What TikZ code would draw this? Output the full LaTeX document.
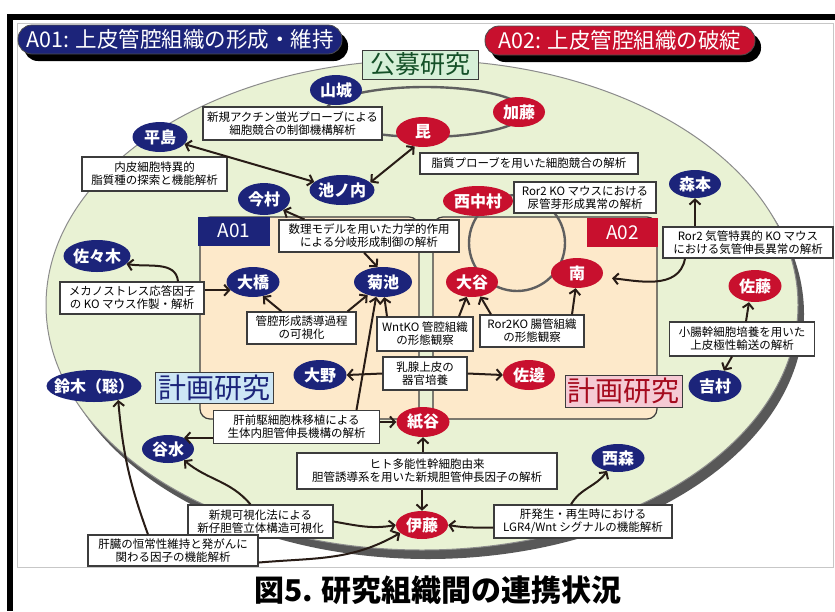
\documentclass[tikz,border=0pt]{standalone}
\usepackage{fontspec}
\setmainfont{Noto Sans CJK JP}
\usetikzlibrary{shapes.geometric,arrows.meta,calc}
\definecolor{navy}{RGB}{28,36,122}
\definecolor{redc}{RGB}{200,16,46}
\definecolor{greenfill}{RGB}{233,242,212}
\definecolor{peach}{RGB}{253,233,202}
\definecolor{loopgray}{RGB}{95,95,95}
\definecolor{arrowc}{RGB}{40,28,22}
\definecolor{boxline}{RGB}{60,60,60}
\definecolor{shadowgray}{RGB}{88,88,88}
\definecolor{koubotext}{RGB}{20,80,40}
\definecolor{koubofill}{RGB}{214,240,216}
\definecolor{kblue}{RGB}{205,230,245}
\definecolor{kpink}{RGB}{245,202,212}
\definecolor{kred}{RGB}{165,10,30}
\tikzset{
  pn/.style={ellipse, fill=navy, text=white, font=\fontsize{16}{16}\selectfont\bfseries,
    inner sep=0pt, minimum width=52pt, minimum height=30pt},
  rn/.style={pn, fill=redc},
  tb/.style={draw=boxline, line width=1.1pt, fill=white, align=center, inner sep=1pt,
    font=\fontsize{11.5}{13}\selectfont, text=black},
  arr/.style={draw=arrowc, line width=2pt, -{Straight Barb[length=5pt,width=11pt]}},
  darr/.style={draw=arrowc, line width=2pt, {Straight Barb[length=5pt,width=11pt]}-{Straight Barb[length=5pt,width=11pt]}},
  loopline/.style={draw=loopgray, line width=2.4pt},
  rectline/.style={draw=boxline, line width=1.2pt},
}
\begin{document}
\begin{tikzpicture}[x=1pt,y=-1pt]
\useasboundingbox (0,0) rectangle (835,611);
\fill[white] (0,0) rectangle (835,611);
% frame
\fill[black] (7,14) rectangle (835,20);
\fill[black] (7,14) rectangle (13,611);
\draw[black!22, line width=1pt] (17,23) rectangle (833,567);
% big ellipse
\fill[shadowgray] (428,314) ellipse [x radius=376pt, y radius=245pt];
\fill[greenfill] (422,305) ellipse [x radius=376pt, y radius=245pt];
\draw[black!45, line width=1pt] (422,305) ellipse [x radius=376pt, y radius=245pt];
% planned research areas
\filldraw[fill=peach, rectline, rounded corners=10pt] (200,217) rectangle (419,419);
\filldraw[fill=peach, rectline, rounded corners=10pt] (433,217) rectangle (657,419);
% loops
\draw[loopline] (425,112) ellipse [x radius=100pt, y radius=25pt];
\draw[loopline] (517,243) circle [radius=48pt];
% header pills
\fill[black, rounded corners=14pt] (24,32) rectangle (348,61);
\node[fill=navy, draw=black!70, line width=0.8pt, rounded corners=14pt, minimum width=324pt, minimum height=29pt,
  inner sep=0pt, text=white, font=\fontsize{21.5}{22}\selectfont] (pillA) at (180,39.5) {A01: 上皮管腔組織の形成・維持};
\fill[black, rounded corners=14pt] (491,33) rectangle (761,62);
\node[fill=redc, draw=black!70, line width=0.8pt, rounded corners=14pt, minimum width=270pt, minimum height=29pt,
  inner sep=0pt, text=white, font=\fontsize{21.5}{22}\selectfont] (pillB) at (620,40.5) {A02: 上皮管腔組織の破綻};
% area labels
\node[fill=navy, text=white, minimum width=72pt, minimum height=29pt, inner sep=0pt,
  font=\fontsize{19}{19}\selectfont] (a01) at (234,231) {A01};
\node[fill=redc, text=white, minimum width=71pt, minimum height=29pt, inner sep=0pt,
  font=\fontsize{19}{19}\selectfont] (a02) at (622.5,232.5) {A02};
\node[draw=boxline, line width=1pt, fill=koubofill, text=koubotext, minimum width=116pt, minimum height=29pt,
  inner sep=0pt, font=\fontsize{25}{25}\selectfont] (koubo) at (420,64.5) {公募研究};
\node[draw=boxline, line width=1pt, fill=kblue, text=navy, minimum width=118pt, minimum height=31pt,
  inner sep=0pt, font=\fontsize{28}{28}\selectfont] (keikakuA) at (214,387.5) {計画研究};
\node[draw=boxline, line width=1pt, fill=kpink, text=kred, minimum width=117pt, minimum height=32pt,
  inner sep=0pt, font=\fontsize{28}{28}\selectfont] (keikakuB) at (623.5,391) {計画研究};
% text boxes
\node[tb, minimum width=179pt, minimum height=33pt] (b1) at (292.5,123.5) {新規アクチン蛍光プローブによる\\細胞競合の制御機構解析};
\node[tb, minimum width=145pt, minimum height=34pt] (b2) at (154.5,174) {内皮細胞特異的\\脂質種の探索と機能解析};
\node[tb, minimum width=218pt, minimum height=21pt] (b3) at (529,163.5) {脂質プローブを用いた細胞競合の解析};
\node[tb, minimum width=142pt, minimum height=31pt] (b4) at (585,197.5) {Ror2 KO マウスにおける\\尿管芽形成異常の解析};
\node[tb, minimum width=180pt, minimum height=32pt] (b5) at (369,236) {数理モデルを用いた力学的作用\\による分岐形成制御の解析};
\node[tb, minimum width=170pt, minimum height=31pt] (b6) at (748,242.5) {Ror2 気管特異的 KO マウス\\における気管伸長異常の解析};
\node[tb, minimum width=144pt, minimum height=32pt] (b7) at (132,298) {メカノストレス応答因子\\の KO マウス作製・解析};
\node[tb, minimum width=109pt, minimum height=32pt] (b8) at (301.5,328) {管腔形成誘導過程\\の可視化};
\node[tb, minimum width=96pt, minimum height=34pt] (b9) at (425,334) {WntKO 管腔組織\\の形態観察};
\node[tb, minimum width=104pt, minimum height=32pt] (b10) at (532,331) {Ror2KO 腸管組織\\の形態観察};
\node[tb, minimum width=84pt, minimum height=33pt] (b11) at (425,373.5) {乳腺上皮の\\器官培養};
\node[tb, minimum width=145pt, minimum height=34pt] (b12) at (742,339) {小腸幹細胞培養を用いた\\上皮極性輸送の解析};
\node[tb, minimum width=166pt, minimum height=33pt] (b13) at (296.5,427) {肝前駆細胞株移植による\\生体内胆管伸長機構の解析};
\node[tb, minimum width=260pt, minimum height=36pt] (b14) at (427,471) {ヒト多能性幹細胞由来\\胆管誘導系を用いた新規胆管伸長因子の解析};
\node[tb, minimum width=145pt, minimum height=33pt] (b15) at (260.5,521.5) {新規可視化法による\\新仔胆管立体構造可視化};
\node[tb, minimum width=170pt, minimum height=31pt] (b16) at (173,550.5) {肝臓の恒常性維持と発がんに\\関わる因子の機能解析};
\node[tb, minimum width=178pt, minimum height=33pt] (b17) at (583,521.5) {肝発生・再生時における\\LGR4/Wnt シグナルの機能解析};
% researcher nodes
\node[pn] (yamashiro) at (336,90) {山城};
\node[pn, minimum width=55pt] (hirashima) at (160,137) {平島};
\node[rn, minimum width=54pt] (kon) at (423,132) {昆};
\node[rn] (kato) at (519,112) {加藤};
\node[pn, minimum width=65pt, inner xsep=-3pt] (ikenouchi) at (342,190) {池ノ内};
\node[pn, minimum height=32pt] (imamura) at (264,199) {今村};
\node[rn, minimum width=70pt, inner xsep=-3pt] (nishinakamura) at (478,201) {西中村};
\node[pn, minimum height=28pt] (morimoto) at (695,184) {森本};
\node[pn, minimum width=67pt, minimum height=32pt, inner xsep=-3pt] (sasaki) at (97,256) {佐々木};
\node[pn, minimum width=53pt] (ohashi) at (253,282) {大橋};
\node[pn, minimum width=58pt] (kikuchi) at (383,282) {菊池};
\node[rn] (ootani) at (472,282) {大谷};
\node[rn] (minami) at (577,273) {南};
\node[rn, minimum width=53pt, minimum height=32pt] (sato) at (755,286) {佐藤};
\node[pn, minimum width=53pt] (oono) at (320,375) {大野};
\node[rn] (sabe) at (529,375) {佐邊};
\node[pn, minimum width=53pt, minimum height=32pt] (yoshimura) at (715,386) {吉村};
\node[pn, minimum width=95pt, minimum height=32pt, inner xsep=-7pt] (suzuki) at (94,386) {鈴木（聡）};
\node[rn, minimum width=53pt] (kamiya) at (423,422) {紙谷};
\node[pn, minimum height=28pt] (tanimizu) at (168,449) {谷水};
\node[pn, minimum width=53pt, minimum height=28pt] (nishimori) at (618,458) {西森};
\node[rn, minimum height=28pt] (ito) at (422,525) {伊藤};
% connectors
\draw[darr] (hirashima) -- (ikenouchi);
\draw[darr] (kon.-120) -- (ikenouchi.15);
\draw[arr] ([xshift=26pt]b5.north west) -- (imamura.-30);
\draw[arr] ([xshift=-5pt]b5.south) -- (kikuchi.110);
\draw[arr] ([xshift=46pt]b7.north) to[out=95,in=-10] (sasaki.-15);
\draw[arr] (b7.east |- ohashi.-160) -- (ohashi.-160);
\draw[arr] ([xshift=-20pt]b8.north) -- (ohashi.-55);
\draw[arr] ([xshift=46pt]b8.north) -- (kikuchi.-140);
\draw[arr] ([xshift=-38pt]b9.north) -- (kikuchi.-85);
\draw[arr] ([xshift=34pt]b9.north) -- (ootani.-110);
\draw[arr] ([xshift=-41pt]b10.north) -- (ootani.-60);
\draw[arr] ([xshift=40pt]b10.north) -- (minami.-95);
\draw[arr] (b11.west) -- (oono.east);
\draw[arr] (b11.east) -- (sabe.west);
\draw[arr] ([xshift=60pt]b13.north) -- (kikuchi.-115);
\draw[arr] (b13.west |- tanimizu.35) -- (tanimizu.35);
\draw[arr] (b13.east |- kamiya.west) -- (kamiya.west);
\draw[arr] (b14.north -| kamiya.south) -- (kamiya.south);
\draw[arr] (b14.south -| ito.north) -- (ito.north);
\draw[arr] ([xshift=-10pt]b15.north) to[out=130,in=-40] (tanimizu.-35);
\draw[arr] (b15.east) to[out=-10,in=190] (ito.west);
\draw[arr] ([yshift=4pt]b16.south east) to[out=5,in=210] (ito.-160);
\draw[arr] ([xshift=-25pt]b16.north) to[out=110,in=-85] (suzuki.-30);
\draw[arr] ([xshift=-12pt]b17.north) to[out=60,in=-125] (nishimori.-130);
\draw[arr] ([yshift=-6pt]b17.west) to[out=180,in=-10] (ito.east);
\draw[arr] (b6.north -| morimoto.south) -- (morimoto.south);
\draw[arr, shorten >=10pt] ([xshift=-63pt]b6.south) to[out=-100,in=-5] (minami.-10);
\draw[arr] ([xshift=4pt]b12.north) -- ([xshift=-6pt]sato.south);
\draw[arr] ([xshift=-10pt]b12.south) -- (yoshimura.60);
% title
\node[font=\fontsize{30}{30}\selectfont\bfseries] (title) at (438,590) {図5. 研究組織間の連携状況};
\end{tikzpicture}
\end{document}
